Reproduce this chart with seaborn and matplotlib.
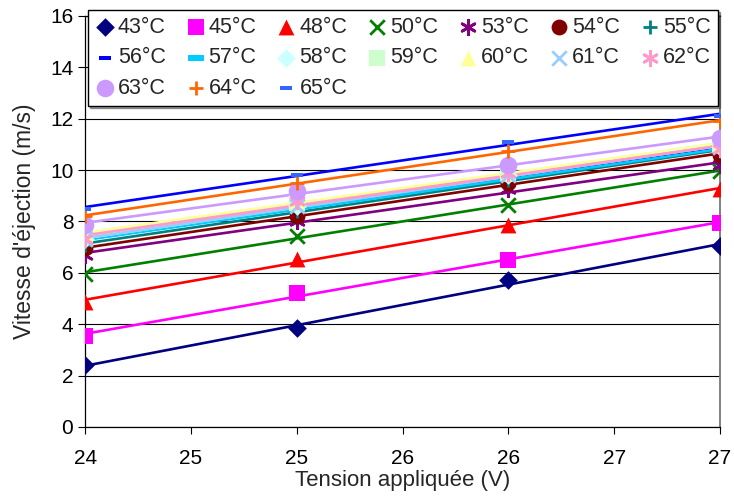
import matplotlib
matplotlib.use("Agg")
import matplotlib.pyplot as plt
import seaborn as sns
import numpy as np
from matplotlib.path import Path


voltages = [24, 25, 26, 27]

# Excel axis: ticks every 0.5 V, labels rounded to whole volts
xtick_values = [24, 24.5, 25, 25.5, 26, 26.5, 27]
xtick_labels = ["24", "25", "25", "26", "26", "27", "27"]

temperatures = ["43°C", "45°C", "48°C", "50°C", "53°C", "54°C", "55°C",
                "56°C", "57°C", "58°C", "59°C", "60°C", "61°C", "62°C",
                "63°C", "64°C", "65°C"]

speeds = [
    [2.4, 3.85, 5.7, 7.05],
    [3.55, 5.2, 6.5, 7.95],
    [4.85, 6.55, 7.85, 9.25],
    [5.95, 7.45, 8.65, 9.95],
    [6.7, 8.0, 9.25, 10.2],
    [6.95, 8.2, 9.5, 10.6],
    [7.1, 8.4, 9.6, 10.75],
    [7.3, 8.5, 9.7, 10.9],
    [7.25, 8.5, 9.65, 10.8],
    [7.3, 8.6, 9.8, 10.9],
    [7.4, 8.7, 9.9, 11.0],
    [7.5, 8.8, 9.9, 11.0],
    [7.3, 8.6, 9.8, 10.9],
    [7.3, 8.8, 9.9, 10.8],
    [7.85, 9.2, 10.2, 11.25],
    [8.2, 9.5, 10.75, 11.9],
    [8.5, 9.8, 11.1, 12.1],
]

colors = ["#000080", "#FF00FF", "#FF0000", "#008000", "#800080", "#800000", "#008080",
          "#0000FF", "#00CCFF", "#CCFFFF", "#CCFFCC", "#FFFF99", "#99CCFF", "#FF99CC",
          "#CC99FF", "#FF6600", "#3366FF"]
line_colors = colors[:-1] + ["#0000FF"]

dash = Path([(-1, -0.4), (1, -0.4), (1, 0.4), (-1, 0.4), (-1, -0.4)],
            [Path.MOVETO, Path.LINETO, Path.LINETO, Path.LINETO, Path.CLOSEPOLY])
star = (6, 2, 0)
markers = ["D", "s", "^", "x", star, "o", "+",
           dash, dash, "D", "s", "^", "x", star,
           "o", "+", dash]
sizes = [90, 120, 130, 110, 110, 130, 110,
         70, 130, 90, 120, 130, 110, 110,
         160, 110, 70]


def main():
    sns.set_style("white")
    plt.rcParams["font.family"] = ["Liberation Sans", "DejaVu Sans"]

    fig = plt.figure(figsize=(7.34, 4.97), dpi=100)
    ax = fig.add_axes([0.116, 0.141, 0.865, 0.827])

    x = np.array(voltages, dtype=float)
    for label, y, c, lc, m, s in zip(temperatures, speeds, colors, line_colors, markers, sizes):
        line_marker = m in ("x", "+") or m == star
        scatter_kws = {"s": s, "alpha": 1, "zorder": 3,
                       "linewidths": 2 if line_marker else 0}
        sns.regplot(x=x, y=np.array(y), ax=ax, ci=None, marker=m, color=c,
                    label=label, truncate=True,
                    scatter_kws=scatter_kws,
                    line_kws={"lw": 1.9, "alpha": 1, "zorder": 2, "color": lc})

    ax.set_xlim(24, 27)
    ax.set_ylim(0, 16)
    ax.set_xticks(xtick_values)
    ax.set_xticklabels(xtick_labels)
    ax.set_yticks(range(0, 17, 2))
    ax.yaxis.grid(True, color="black", lw=0.8)
    ax.xaxis.grid(False)
    for side in ["left", "bottom", "top"]:
        ax.spines[side].set_color("black")
        ax.spines[side].set_linewidth(0.9)
    ax.spines["right"].set_color("#808080")
    ax.spines["right"].set_linewidth(1.4)
    ax.tick_params(axis="both", direction="out", length=5, width=0.8,
                   labelsize=15, colors="black", left=True, bottom=True)
    ax.tick_params(axis="x", pad=11)
    ax.set_xlabel("Tension appliquée (V)", fontsize=16, labelpad=1)
    ax.set_ylabel("Vitesse d'éjection (m/s)", fontsize=16.5, labelpad=10)

    # row-wise order in a column-filled legend (7 columns, 3 rows)
    handles, labels = ax.get_legend_handles_labels()
    order = []
    for col in range(7):
        for row in range(3):
            i = row * 7 + col
            if i < len(handles):
                order.append(i)
    leg = ax.legend([handles[i] for i in order], [labels[i] for i in order],
                    loc="upper left", bbox_to_anchor=(0.12, 0.79, 0.858, 0.19),
                    bbox_transform=fig.transFigure, mode="expand",
                    ncol=7, fontsize=15.5, frameon=True, fancybox=False,
                    edgecolor="black", framealpha=1, handlelength=0.9,
                    handletextpad=0.15, columnspacing=0.5, borderpad=0.33,
                    labelspacing=0.43, borderaxespad=0,
                    shadow={"ox": 1.5, "oy": -1.5, "color": "#404040"})
    leg.get_frame().set_linewidth(1.0)
    leg.set_zorder(5)

    fig.savefig("out.png", dpi=100)


if __name__ == "__main__":
    main()
